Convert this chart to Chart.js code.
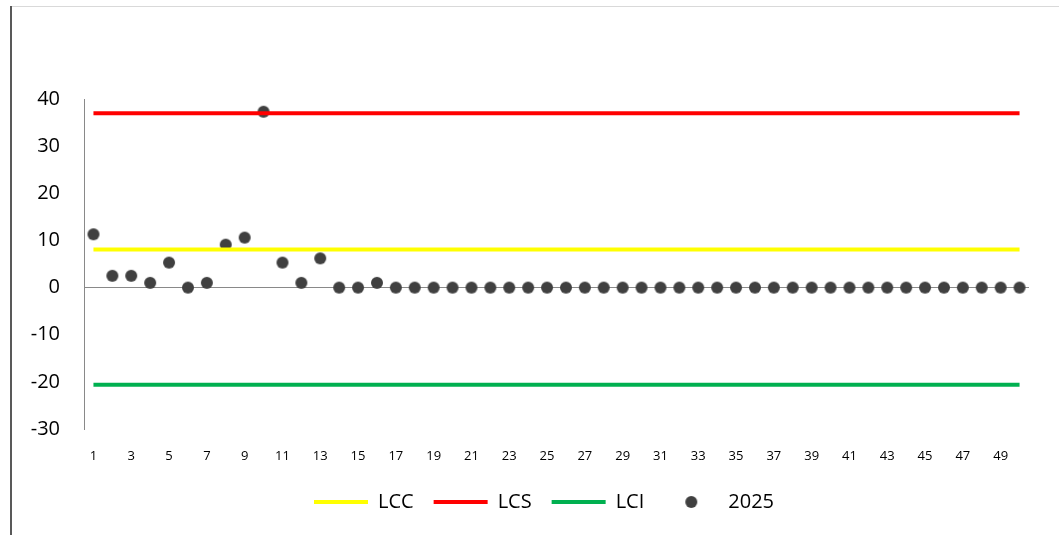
<!DOCTYPE html>
<html>
<head>
<meta charset="utf-8">
<script src="https://cdn.jsdelivr.net/npm/chart.js@4/dist/chart.umd.min.js"></script>
<style>
  html, body { margin: 0; padding: 0; background: #fff; }
  #wrap { width: 1059px; height: 535px; position: relative; }
</style>
</head>
<body>
<div id="wrap"><canvas id="controlChart"></canvas></div>
<script>
const categories = Array.from({length: 50}, (_, i) => String(i + 1));
const values2025 = [
    11.3, 2.5, 2.5, 1, 5.3, 0, 1, 9.1, 10.6, 37.3,
    5.3, 1, 6.2, 0, 0, 1, 0, 0, 0, 0,
    0, 0, 0, 0, 0, 0, 0, 0, 0, 0,
    0, 0, 0, 0, 0, 0, 0, 0, 0, 0,
    0, 0, 0, 0, 0, 0, 0, 0, 0, 0
];
const LCC = 8.1;
const LCS = 37.0;
const LCI = -20.6;
const yTicks = [-30, -20, -10, 0, 10, 20, 30, 40];

const first = categories[0];
const last = categories[categories.length - 1];

// dot used as the legend marker for the 2025 series
const dot = document.createElement('canvas');
dot.width = 14; dot.height = 14;
const dctx = dot.getContext('2d');
dctx.fillStyle = '#404040';
dctx.beginPath(); dctx.arc(7, 7, 6, 0, Math.PI * 2); dctx.fill();

// outer frame of the chart area (left and top edge)
const framePlugin = {
    id: 'frame',
    beforeDraw(chart) {
        const ctx = chart.ctx;
        ctx.save();
        ctx.fillStyle = '#d9d9d9';
        ctx.fillRect(11, 6, 1048, 1);
        ctx.fillStyle = '#595959';
        ctx.fillRect(10, 6, 2, 529);
        ctx.restore();
    }
};

new Chart(document.getElementById('controlChart'), {
    type: 'line',
    data: {
        labels: categories,
        datasets: [
            {
                label: 'LCC',
                data: [{x: first, y: LCC}, {x: last, y: LCC}],
                borderColor: '#ffff00',
                borderWidth: 4,
                pointRadius: 0
            },
            {
                label: 'LCS',
                data: [{x: first, y: LCS}, {x: last, y: LCS}],
                borderColor: '#ff0000',
                borderWidth: 4,
                pointRadius: 0
            },
            {
                label: 'LCI',
                data: [{x: first, y: LCI}, {x: last, y: LCI}],
                borderColor: '#00b050',
                borderWidth: 4,
                pointRadius: 0
            },
            {
                label: '2025',
                data: values2025,
                showLine: false,
                pointRadius: 6.5,
                pointBackgroundColor: '#404040',
                pointBorderColor: '#404040',
                pointStyle: dot
            }
        ]
    },
    options: {
        responsive: true,
        maintainAspectRatio: false,
        animation: false,
        layout: {padding: {left: 29, right: 0, top: 99, bottom: 13}},
        plugins: {
            tooltip: {enabled: false},
            legend: {
                position: 'bottom',
                labels: {
                    usePointStyle: true,
                    pointStyleWidth: 54,
                    padding: 20,
                    color: '#000',
                    font: {family: 'Open Sans', size: 20},
                    generateLabels(chart) {
                        return chart.data.datasets.map((ds, i) => ({
                            text: ds.label,
                            datasetIndex: i,
                            fillStyle: ds.label === '2025' ? '#404040' : ds.borderColor,
                            strokeStyle: ds.label === '2025' ? '#404040' : ds.borderColor,
                            lineWidth: 4,
                            pointStyle: ds.label === '2025' ? dot : 'line',
                            fontColor: '#000'
                        }));
                    }
                }
            }
        },
        scales: {
            x: {
                offset: true,
                grid: {display: false},
                border: {display: false},
                afterFit(scale) { scale.height = 43; },
                ticks: {
                    autoSkip: false,
                    maxRotation: 0,
                    padding: 11,
                    color: '#000',
                    font: {family: 'Open Sans', size: 13},
                    callback(value, index) {
                        return index % 2 === 0 ? this.getLabelForValue(value) : '';
                    }
                }
            },
            y: {
                min: -30,
                max: 40,
                afterBuildTicks(scale) { scale.ticks = yTicks.map(v => ({value: v})); },
                afterFit(scale) { scale.width = 55; },
                border: {display: true, color: '#898989', width: 1},
                grid: {
                    drawTicks: false,
                    color: ctx => ctx.tick && ctx.tick.value === 0 ? '#898989' : 'rgba(0,0,0,0)'
                },
                ticks: {
                    padding: 24,
                    color: '#000',
                    font: {family: 'Open Sans', size: 20}
                }
            },
            // empty right-hand axis, only keeps the plot clear of the right edge
            yRight: {
                position: 'right',
                display: true,
                grid: {display: false},
                border: {display: false},
                ticks: {display: false},
                afterFit(scale) { scale.width = 30; }
            }
        }
    },
    plugins: [framePlugin]
});
</script>
</body>
</html>
